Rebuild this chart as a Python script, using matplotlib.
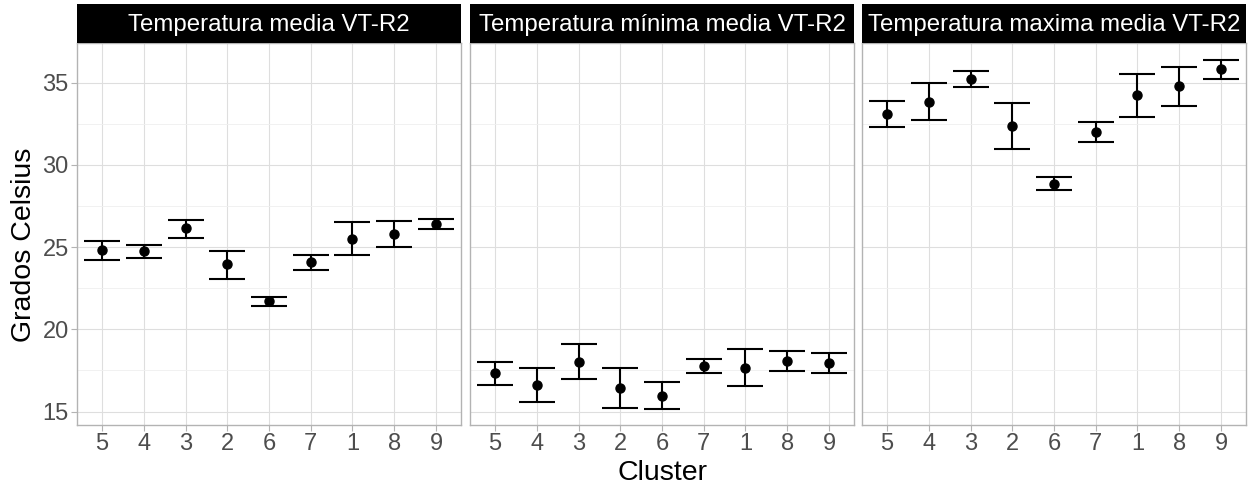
import numpy as np
import matplotlib.pyplot as plt

plt.rcParams['font.family'] = ['Liberation Sans', 'DejaVu Sans']

clusters = ['5', '4', '3', '2', '6', '7', '1', '8', '9']
titles = ['Temperatura media VT-R2', 'Temperatura mínima media VT-R2',
          'Temperatura maxima media VT-R2']

# media, limite inferior, limite superior por cluster
media_avg = [24.80, 24.74, 26.14, 23.95, 21.72, 24.07, 25.50, 25.81, 26.42]
media_lo = [24.21, 24.35, 25.55, 23.07, 21.41, 23.58, 24.53, 24.98, 26.11]
media_hi = [25.35, 25.14, 26.68, 24.78, 21.98, 24.55, 26.50, 26.62, 26.70]

min_avg = [17.32, 16.63, 18.03, 16.43, 15.96, 17.77, 17.64, 18.09, 17.95]
min_lo = [16.63, 15.60, 16.96, 15.23, 15.17, 17.34, 16.53, 17.46, 17.36]
min_hi = [18.01, 17.64, 19.10, 17.62, 16.77, 18.17, 18.78, 18.68, 18.56]

max_avg = [33.13, 33.86, 35.23, 32.40, 28.87, 31.99, 34.24, 34.79, 35.84]
max_lo = [32.29, 32.76, 34.73, 31.00, 28.47, 31.38, 32.90, 33.61, 35.23]
max_hi = [33.92, 34.97, 35.72, 33.80, 29.27, 32.60, 35.53, 35.94, 36.37]

series = [(media_avg, media_lo, media_hi),
          (min_avg, min_lo, min_hi),
          (max_avg, max_lo, max_hi)]

W, H = 1257, 490
fig = plt.figure(figsize=(W / 100, H / 100), dpi=100)

lefts = [77, 470, 862]
pw = 384
ptop, pbot = 43, 425
strip_top = 4

x = np.arange(1, len(clusters) + 1)
for i, (avg, lo, hi) in enumerate(series):
    ax = fig.add_axes([lefts[i] / W, 1 - pbot / H, pw / W, (pbot - ptop) / H])
    ax.set_xlim(0.4, 9.6)
    ax.set_ylim(14.18, 37.42)
    ax.set_yticks([15, 20, 25, 30, 35])
    ax.set_yticks([17.5, 22.5, 27.5, 32.5], minor=True)
    ax.set_xticks(x)
    ax.set_xticklabels(clusters)
    ax.grid(True, which='major', color='#DEDEDE', lw=0.8)
    ax.grid(True, which='minor', axis='y', color='#EFEFEF', lw=0.6)
    ax.set_axisbelow(True)
    for s in ax.spines.values():
        s.set_color('#B3B3B3')
        s.set_linewidth(1.0)
    ax.tick_params(axis='both', which='major', length=4, color='#B3B3B3',
                   labelsize=17, labelcolor='#4D4D4D', pad=2)
    ax.tick_params(axis='y', which='minor', length=0)
    if i > 0:
        ax.tick_params(axis='y', labelleft=False, length=0)

    avg = np.array(avg)
    lo = np.array(lo)
    hi = np.array(hi)
    ax.errorbar(x, avg, yerr=[avg - lo, hi - avg], fmt='none', ecolor='black',
                elinewidth=1.5, capsize=13.3, capthick=1.5)
    ax.plot(x, avg, 'o', color='black', ms=6.5)

    # franja del titulo
    sax = fig.add_axes([lefts[i] / W, 1 - ptop / H, pw / W, (ptop - strip_top) / H])
    sax.set_facecolor('black')
    sax.set_xticks([])
    sax.set_yticks([])
    for s in sax.spines.values():
        s.set_visible(False)
    sax.text(0.5, 0.47, titles[i], color='white', fontsize=17.3,
             ha='center', va='center', transform=sax.transAxes)

fig.text(662 / W, 1 - 473 / H, 'Cluster', fontsize=20.5, ha='center', va='center')
fig.text(24 / W, 1 - 245 / H, 'Grados Celsius', fontsize=20.5, rotation=90,
         ha='center', va='center')

fig.savefig('out.png', dpi=100, facecolor='white')
